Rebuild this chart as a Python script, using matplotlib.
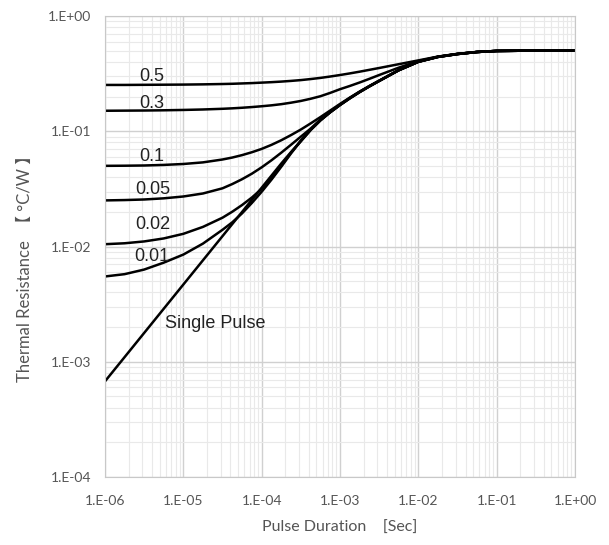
import numpy as np
import matplotlib.pyplot as plt
from matplotlib.ticker import LogLocator, FixedLocator, NullFormatter

# log10 of pulse duration [s]; denser where the curves bend
log_t = [-6.0, -5.75, -5.5, -5.25, -5.0, -4.75, -4.5, -4.375, -4.25, -4.125,
         -4.0, -3.875, -3.75, -3.625, -3.5, -3.375, -3.25, -3.125, -3.0, -2.875,
         -2.75, -2.625, -2.5, -2.25, -2.0, -1.75, -1.5, -1.25, -1.0, -0.5, 0.0]

# log10 of thermal resistance [C/W]
d050 = [-0.598, -0.598, -0.597, -0.596, -0.595, -0.593, -0.590, -0.588, -0.585, -0.582,
        -0.578, -0.574, -0.569, -0.563, -0.556, -0.547, -0.537, -0.525, -0.512, -0.498,
        -0.483, -0.467, -0.451, -0.418, -0.385, -0.352, -0.328, -0.312, -0.303, -0.300, -0.300]
d030 = [-0.822, -0.821, -0.820, -0.818, -0.815, -0.811, -0.805, -0.801, -0.796, -0.790,
        -0.783, -0.775, -0.765, -0.752, -0.737, -0.718, -0.696, -0.667, -0.635, -0.607,
        -0.577, -0.545, -0.512, -0.448, -0.391, -0.353, -0.329, -0.312, -0.303, -0.300, -0.300]
d010 = [-1.300, -1.299, -1.297, -1.292, -1.284, -1.270, -1.245, -1.228, -1.207, -1.182,
        -1.153, -1.118, -1.078, -1.033, -0.985, -0.932, -0.877, -0.820, -0.763, -0.708,
        -0.656, -0.607, -0.561, -0.469, -0.396, -0.354, -0.329, -0.312, -0.303, -0.300, -0.300]
d005 = [-1.600, -1.597, -1.592, -1.582, -1.566, -1.540, -1.495, -1.458, -1.416, -1.368,
        -1.313, -1.252, -1.186, -1.117, -1.047, -0.977, -0.898, -0.830, -0.768, -0.711,
        -0.658, -0.609, -0.562, -0.470, -0.397, -0.355, -0.330, -0.312, -0.303, -0.300, -0.300]
d002 = [-1.980, -1.972, -1.956, -1.930, -1.890, -1.830, -1.750, -1.698, -1.640, -1.575,
        -1.500, -1.410, -1.300, -1.185, -1.080, -0.986, -0.904, -0.834, -0.771, -0.713,
        -0.659, -0.610, -0.563, -0.470, -0.397, -0.355, -0.330, -0.312, -0.303, -0.300, -0.300]
d001 = [-2.260, -2.240, -2.200, -2.140, -2.070, -1.975, -1.855, -1.790, -1.712, -1.622,
        -1.525, -1.420, -1.308, -1.192, -1.084, -0.988, -0.905, -0.835, -0.772, -0.714,
        -0.660, -0.610, -0.563, -0.470, -0.397, -0.355, -0.330, -0.312, -0.303, -0.300, -0.300]
single = [-3.170, -2.960, -2.750, -2.540, -2.330, -2.120, -1.910, -1.805, -1.700, -1.595,
          -1.490, -1.385, -1.280, -1.180, -1.088, -0.990, -0.906, -0.836, -0.773, -0.715,
          -0.661, -0.611, -0.564, -0.471, -0.398, -0.355, -0.330, -0.312, -0.303, -0.300, -0.300]

curves = [d050, d030, d010, d005, d002, d001, single]
labels = ['0.5', '0.3', '0.1', '0.05', '0.02', '0.01', 'Single Pulse']
label_x = [4.0e-6, 4.0e-6, 4.0e-6, 4.1e-6, 4.1e-6, 4.0e-6, 2.55e-5]
label_y = [0.30, 0.175, 0.060, 0.0314, 0.0154, 0.0082, 0.00216]

x_ticks = [1e-6, 1e-5, 1e-4, 1e-3, 1e-2, 1e-1, 1e0]
x_ticklabels = ['1.E-06', '1.E-05', '1.E-04', '1.E-03', '1.E-02', '1.E-01', '1.E+00']
y_ticks = [1e-4, 1e-3, 1e-2, 1e-1, 1e0]
y_ticklabels = ['1.E-04', '1.E-03', '1.E-02', '1.E-01', '1.E+00']

plt.rcParams['font.family'] = ['Lato', 'DejaVu Sans', 'Noto Sans CJK JP']

fig = plt.figure(figsize=(6.09, 5.45), dpi=100)
ax = fig.add_axes([0.1724, 0.1248, 0.7718, 0.8458])

t = 10 ** np.array(log_t)
for c in curves:
    ax.plot(t, 10 ** np.array(c), color='black', lw=1.8, solid_capstyle='butt')

for lab, lx, ly in zip(labels, label_x, label_y):
    ax.text(lx, ly, lab, ha='center', va='center', fontsize=13,
            family=['Liberation Sans', 'DejaVu Sans'], color='#222222')

ax.set_xscale('log')
ax.set_yscale('log')
ax.set_xlim(1e-6, 1)
ax.set_ylim(1e-4, 1)

ax.xaxis.set_major_locator(FixedLocator(x_ticks))
ax.set_xticklabels(x_ticklabels)
ax.yaxis.set_major_locator(FixedLocator(y_ticks))
ax.set_yticklabels(y_ticklabels)
ax.xaxis.set_minor_locator(LogLocator(base=10, subs=np.arange(2, 10), numticks=20))
ax.yaxis.set_minor_locator(LogLocator(base=10, subs=np.arange(2, 10), numticks=20))
ax.xaxis.set_minor_formatter(NullFormatter())
ax.yaxis.set_minor_formatter(NullFormatter())

ax.grid(True, which='major', color='#d0d0d0', lw=1.0)
ax.grid(True, which='minor', color='#e9e9e9', lw=0.8)
ax.set_axisbelow(True)
ax.tick_params(which='both', length=0, labelsize=10, labelcolor='#555555')
ax.tick_params(axis='x', pad=13)
ax.tick_params(axis='y', pad=10)
for s in ax.spines.values():
    s.set_color('#c8c8c8')

ax.set_xlabel('Pulse Duration    [Sec]', fontsize=11.5, color='#555555', labelpad=10)
ax.set_ylabel('Thermal Resistance  【 °C/W 】', fontsize=12, color='#555555')
ax.yaxis.label.set_ha('left')
ax.yaxis.set_label_coords(-0.153, 0.205)

fig.savefig('out.png', dpi=100)
